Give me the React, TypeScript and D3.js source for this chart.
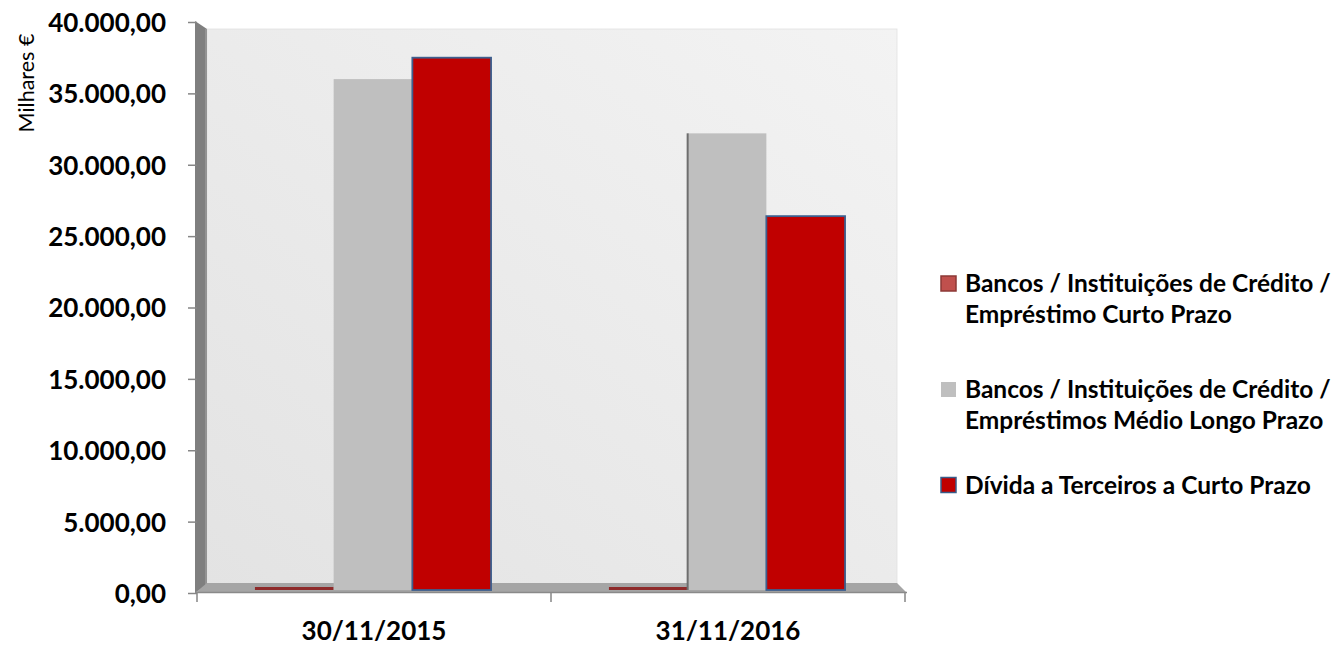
import React, { useEffect, useRef } from "react";
import * as d3 from "d3";

const categories = ["30/11/2015", "31/11/2016"];
const seriesNames = [
  "Bancos / Instituições de Crédito / Empréstimo Curto Prazo",
  "Bancos / Instituições de Crédito / Empréstimos Médio Longo Prazo",
  "Dívida a Terceiros a Curto Prazo",
];
const legendLines = [
  ["Bancos / Instituições de Crédito /", "Empréstimo Curto Prazo"],
  ["Bancos / Instituições de Crédito /", "Empréstimos Médio Longo Prazo"],
  ["Dívida a Terceiros a Curto Prazo"],
];
const curtoPrazo = [420, 420];
const medioLongoPrazo = [36000, 32200];
const terceiros = [37500, 26400];
const yTicks = [0, 5000, 10000, 15000, 20000, 25000, 30000, 35000, 40000];

const fills = ["#8e2a2a", "#bfbfbf", "#c00000"];
const strokes = ["none", "none", "#3d5f8e"];
const legendFills = ["#c0504d", "#bfbfbf", "#c00000"];
const legendStrokes = ["#8c3836", "none", "#385d8a"];

const FONT = "Lato, 'Open Sans', sans-serif";

export default function App() {
  const ref = useRef<SVGSVGElement>(null);

  useEffect(() => {
    const svg = d3.select(ref.current);
    svg.selectAll("*").remove();

    const values = [curtoPrazo, medioLongoPrazo, terceiros];
    const data = categories.map((c, i) => ({
      cat: c,
      vals: seriesNames.map((s, j) => ({ key: s, idx: j, v: values[j][i] })),
    }));

    const left = 197;
    const right = 905;
    const depthX = 10;
    const depthY = 8;

    const y = d3.scaleLinear().domain([0, 40000]).range([593, 22]);
    const x0 = d3.scaleBand().domain(categories).range([left, right]).padding(0);
    const groupW = x0.bandwidth() * 0.667;
    const x1 = d3.scaleBand().domain(seriesNames).range([0, groupW]).padding(0);

    const defs = svg.append("defs");
    const grad = defs
      .append("linearGradient")
      .attr("id", "wall")
      .attr("x1", "0%")
      .attr("y1", "100%")
      .attr("x2", "100%")
      .attr("y2", "0%");
    grad.append("stop").attr("offset", "0%").attr("stop-color", "#e3e3e3");
    grad.append("stop").attr("offset", "100%").attr("stop-color", "#f3f3f3");

    const y0 = y(0);
    const yTop = y(40000);

    // back wall
    svg
      .append("rect")
      .attr("x", left + depthX)
      .attr("y", yTop + 7)
      .attr("width", right - depthX - (left + depthX) + 2)
      .attr("height", y0 - depthY - (yTop + 7) + 2)
      .attr("fill", "url(#wall)")
      .attr("stroke", "#e0e0e0")
      .attr("stroke-width", 0.8);

    // left side wall
    svg
      .append("path")
      .attr(
        "d",
        `M${left - 2},${yTop - 1}L${left + depthX},${yTop + 7}L${left + depthX},${y0 - depthY}L${left - 2},${y0}Z`
      )
      .attr("fill", "#7f7f7f");
    svg
      .append("line")
      .attr("x1", left + depthX - 1)
      .attr("x2", left + depthX - 1)
      .attr("y1", yTop + 7)
      .attr("y2", y0 - depthY)
      .attr("stroke", "#9a9a9a")
      .attr("stroke-width", 1.5);

    // floor
    svg
      .append("path")
      .attr(
        "d",
        `M${left - 2},${y0}L${left + depthX},${y0 - depthY - 2}L${right - depthX + 2},${y0 - depthY - 2}L${right + 2},${y0}Z`
      )
      .attr("fill", "#a5a5a5");
    svg
      .append("line")
      .attr("x1", left - 2)
      .attr("x2", right + 2)
      .attr("y1", y0 - 0.5)
      .attr("y2", y0 - 0.5)
      .attr("stroke", "#8a8a8a")
      .attr("stroke-width", 1.5);

    // bars
    const groups = svg
      .selectAll(".grp")
      .data(data)
      .join("g")
      .attr("class", "grp")
      .attr(
        "transform",
        (d) => `translate(${(x0(d.cat) as number) + (x0.bandwidth() - groupW) / 2 - 1},0)`
      );

    const barBase = y0 - 3;
    groups
      .selectAll("rect.bar")
      .data((d) => d.vals)
      .join("rect")
      .attr("class", "bar")
      .attr("x", (d) => x1(d.key) as number)
      .attr("y", (d) => y(d.v))
      .attr("width", x1.bandwidth())
      .attr("height", (d) => Math.max(0, barBase - y(d.v)))
      .attr("fill", (d) => fills[d.idx])
      .attr("stroke", (d) => strokes[d.idx])
      .attr("stroke-width", 1.8);

    // visible side of gray bar in the right group (perspective)
    groups
      .filter((d, i) => i === 1)
      .selectAll("rect.side")
      .data((d) => d.vals.filter((v) => v.idx === 1))
      .join("rect")
      .attr("class", "side")
      .attr("x", (d) => (x1(d.key) as number) - 1)
      .attr("y", (d) => y(d.v))
      .attr("width", 2)
      .attr("height", (d) => barBase - y(d.v))
      .attr("fill", "#6e6e6e");

    // y axis
    const fmt = d3
      .formatLocale({ decimal: ",", thousands: ".", grouping: [3], currency: ["", "€"] })
      .format(",.2f");
    const yAxis = svg
      .append("g")
      .attr("transform", `translate(${left},0)`)
      .call(d3.axisLeft(y).tickValues(yTicks).tickSize(9).tickPadding(22).tickFormat((d) => fmt(d as number)));
    yAxis.select(".domain").remove();
    yAxis.selectAll(".tick line").attr("stroke", "#868686").attr("stroke-width", 1.5);
    yAxis
      .selectAll(".tick text")
      .attr("font-family", FONT)
      .attr("font-weight", "bold")
      .attr("font-size", 26)
      .attr("fill", "#000")
      .attr("dy", "0.36em");

    // x axis ticks at band boundaries
    const bounds = [...categories.map((c) => x0(c) as number), right];
    svg
      .selectAll(".xtick")
      .data(bounds)
      .join("line")
      .attr("class", "xtick")
      .attr("x1", (d) => d)
      .attr("x2", (d) => d)
      .attr("y1", y0)
      .attr("y2", y0 + 9)
      .attr("stroke", "#868686")
      .attr("stroke-width", 1.5);

    const xAxis = svg
      .append("g")
      .attr("transform", `translate(0,${y0})`)
      .call(d3.axisBottom(x0).tickSize(0).tickPadding(0));
    xAxis.select(".domain").remove();
    xAxis
      .selectAll(".tick text")
      .attr("font-family", FONT)
      .attr("font-weight", "bold")
      .attr("font-size", 26)
      .attr("fill", "#000")
      .attr("dy", null)
      .attr("y", 47);

    // y title
    svg
      .append("text")
      .attr("transform", `translate(34,83) rotate(-90)`)
      .attr("text-anchor", "middle")
      .attr("font-family", FONT)
      .attr("font-size", 21.5)
      .attr("fill", "#000")
      .text("Milhares €");

    // legend
    const legendY = [283.5, 389.5, 485];
    const lg = svg
      .selectAll(".leg")
      .data(legendLines)
      .join("g")
      .attr("class", "leg")
      .attr("transform", (d, i) => `translate(941,${legendY[i]})`);
    lg.append("rect")
      .attr("x", 0)
      .attr("y", -7.5)
      .attr("width", 15)
      .attr("height", 15)
      .attr("fill", (d, i) => legendFills[i])
      .attr("stroke", (d, i) => legendStrokes[i])
      .attr("stroke-width", 1.5);
    lg.selectAll("text")
      .data((d) => d)
      .join("text")
      .attr("x", 24)
      .attr("y", (d, i) => 8.5 + i * 31)
      .attr("font-family", FONT)
      .attr("font-weight", "bold")
      .attr("font-size", 24.5)
      .attr("fill", "#000")
      .text((d) => d);
  }, []);

  return (
    <svg
      ref={ref}
      width={1339}
      height={646}
      style={{ position: "absolute", left: 0, top: 0, background: "#fff" }}
    />
  );
}
